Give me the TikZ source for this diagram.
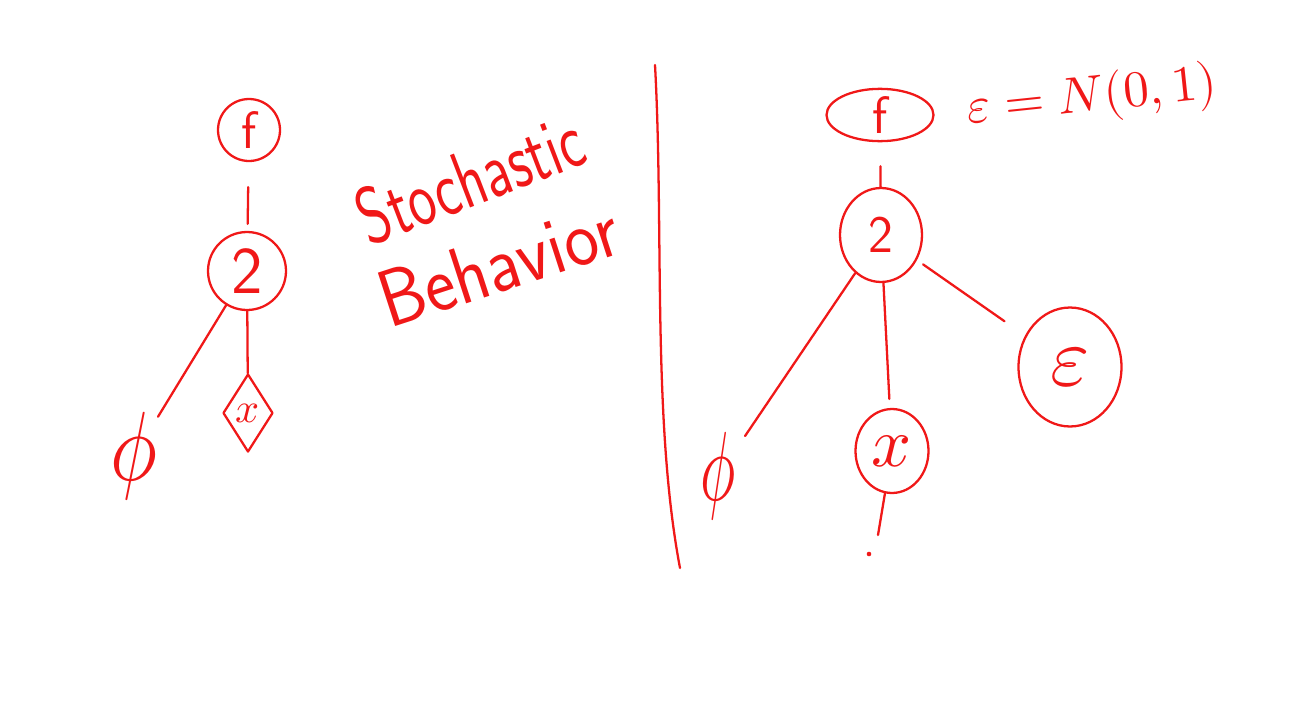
\documentclass[tikz,border=0pt]{standalone}
\usepackage{unicode-math}
\usepackage{graphicx}
\usetikzlibrary{shapes.geometric}
\definecolor{ink}{RGB}{240,24,24}

\begin{document}
\begin{tikzpicture}[x=0.02cm,y=-0.02cm,
  pen/.style={draw=ink,line width=1.3pt,line cap=round,line join=round},
  ring/.style={pen,circle,inner sep=0pt,text=ink},
  oval/.style={pen,ellipse,inner sep=0pt,text=ink},
  wire/.style={pen},
  hand/.style={text=ink,inner sep=0pt,font=\sffamily}]
  \useasboundingbox (0,0) rectangle (1295,703);

  % left tree
  \node[ring,minimum size=1.24cm,font=\sffamily\fontsize{30}{30}\selectfont] (fL) at (249,130) {f};
  \node[ring,minimum size=1.56cm,font=\sffamily\fontsize{38}{38}\selectfont] (twoL) at (247,271) {2};
  \node[pen,diamond,inner sep=0pt,minimum width=1.0cm,minimum height=1.56cm,text=ink,
        font=\fontsize{24}{24}\selectfont] (xL) at (248,413) {$x$};
  \node[hand,font=\fontsize{56}{56}\selectfont] (phiL) at (134,456) {\scalebox{0.8}[1]{$\phi$}};
  \draw[wire,shorten <=0.5cm,shorten >=0.14cm] (fL) -- (twoL);
  \draw[wire] (twoL) -- (phiL);
  \draw[wire] (twoL) -- (xL);

  \node[hand,rotate=21,font=\sffamily\fontsize{46}{46}\selectfont] (stoch) at (470,178)
    {\scalebox{0.72}[1]{Stochastic}};
  \node[hand,rotate=18,font=\sffamily\fontsize{46}{46}\selectfont] (behav) at (498,264)
    {\scalebox{0.9}[1]{Behavior}};

  % divider
  \draw[pen] (655,65) .. controls (664,230) and (652,420) .. (680,568);

  % right tree
  \node[oval,minimum width=2.14cm,minimum height=0.92cm,font=\sffamily\fontsize{30}{30}\selectfont] (fR) at (880,115) {f};
  \node[hand,rotate=6,font=\fontsize{29}{29}\selectfont] (eqn) at (1092,98) {$\varepsilon=N(0,1)$};
  \node[oval,minimum width=1.64cm,minimum height=1.88cm,font=\sffamily\fontsize{30}{30}\selectfont] (twoR) at (881,235) {2};
  \node[oval,minimum width=2.06cm,minimum height=2.38cm,font=\fontsize{48}{48}\selectfont] (epsR) at (1070,367) {$\varepsilon$};
  \node[oval,minimum width=1.46cm,minimum height=1.68cm,font=\fontsize{40}{40}\selectfont] (xR) at (892,451) {$x$};
  \node[hand,font=\fontsize{56}{56}\selectfont] (phiR) at (718,476) {\scalebox{0.6}[1]{$\phi$}};
  \coordinate (tail) at (878,535);
  \coordinate (speck) at (869,554);
  \draw[wire,shorten <=0.48cm] (fR) -- (twoR);
  \draw[wire,shorten >=0.32cm] (twoR) -- (phiR);
  \draw[wire,shorten >=0.18cm] (twoR) -- (xR);
  \draw[wire,shorten <=0.15cm,shorten >=0.5cm] (twoR) -- (epsR);
  \draw[wire] (xR) -- (tail);
  \fill[ink] (speck) circle (1.3pt);
\end{tikzpicture}
\end{document}
